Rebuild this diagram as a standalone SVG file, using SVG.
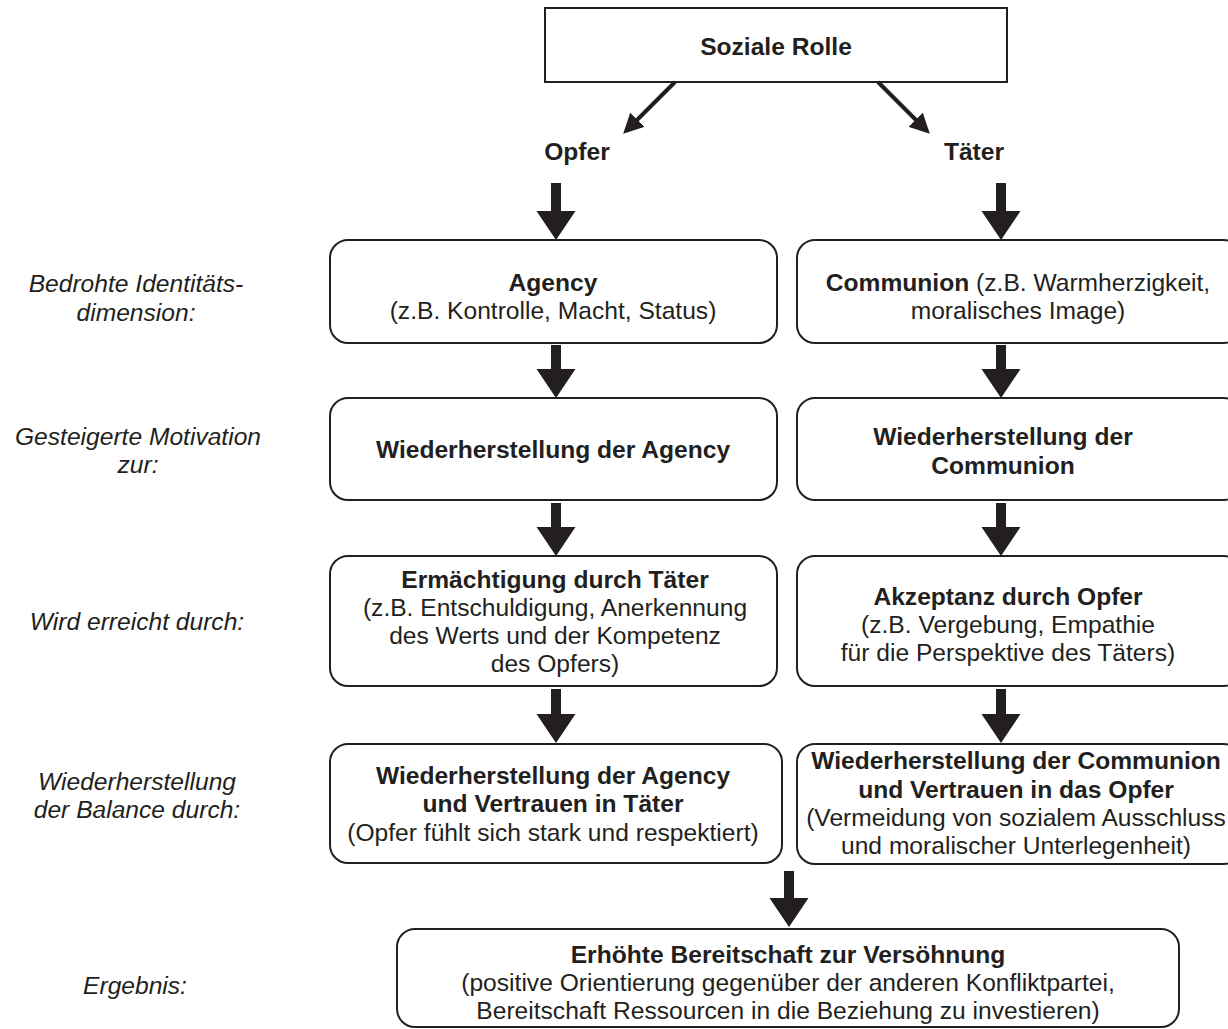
<svg xmlns="http://www.w3.org/2000/svg" width="1228" height="1029" viewBox="0 0 1228 1029">
<defs>
<style>
text{font-family:"Liberation Sans",Arial,sans-serif;fill:#231f20;font-size:24.6px;text-anchor:middle}
.b{font-weight:bold}
.i{font-style:italic}
.box{fill:#fff;stroke:#231f20;stroke-width:2}
.thick{fill:#231f20}
.diag{stroke:#231f20;stroke-width:4;fill:none;marker-end:url(#ah)}
</style>
<marker id="ah" viewBox="0 0 10 10" refX="8" refY="5" markerWidth="5" markerHeight="5" orient="auto" markerUnits="strokeWidth">
<path d="M0,0 L10,5 L0,10 z" fill="#231f20"/>
</marker>
</defs>
<rect width="1228" height="1029" fill="#fff"/>

<g id="labels">
<text class="i" x="136" y="292">Bedrohte Identitäts-</text>
<text class="i" x="136" y="321">dimension:</text>
<text class="i" x="138" y="445">Gesteigerte Motivation</text>
<text class="i" x="138" y="473">zur:</text>
<text class="i" x="137" y="630">Wird erreicht durch:</text>
<text class="i" x="137" y="790">Wiederherstellung</text>
<text class="i" x="137" y="818">der Balance durch:</text>
<text class="i" x="135" y="994">Ergebnis:</text>
</g>

<g id="node-soziale-rolle">
<rect class="box" x="545" y="8" width="462" height="74"/>
<text class="b" x="776" y="55">Soziale Rolle</text>
</g>
<g id="node-opfer"><text class="b" x="577" y="160">Opfer</text></g>
<g id="node-taeter"><text class="b" x="974" y="160">Täter</text></g>

<g id="node-agency">
<rect class="box" x="330" y="240" width="447" height="103" rx="18"/>
<text class="b" x="553" y="291">Agency</text>
<text x="553" y="319">(z.B. Kontrolle, Macht, Status)</text>
</g>
<g id="node-communion">
<rect class="box" x="797" y="240" width="445" height="103" rx="18"/>
<text x="1018" y="291"><tspan class="b">Communion</tspan> (z.B. Warmherzigkeit,</text>
<text x="1018" y="319">moralisches Image)</text>
</g>

<g id="node-wh-agency">
<rect class="box" x="330" y="398" width="447" height="102" rx="18"/>
<text class="b" x="553" y="458">Wiederherstellung der Agency</text>
</g>
<g id="node-wh-communion">
<rect class="box" x="797" y="398" width="445" height="102" rx="18"/>
<text class="b" x="1003" y="445">Wiederherstellung der</text>
<text class="b" x="1003" y="474">Communion</text>
</g>

<g id="node-ermaechtigung">
<rect class="box" x="330" y="556" width="447" height="130" rx="18"/>
<text class="b" x="555" y="588">Ermächtigung durch Täter</text>
<text x="555" y="616">(z.B. Entschuldigung, Anerkennung</text>
<text x="555" y="644">des Werts und der Kompetenz</text>
<text x="555" y="672">des Opfers)</text>
</g>
<g id="node-akzeptanz">
<rect class="box" x="797" y="556" width="445" height="130" rx="18"/>
<text class="b" x="1008" y="605">Akzeptanz durch Opfer</text>
<text x="1008" y="633">(z.B. Vergebung, Empathie</text>
<text x="1008" y="661">für die Perspektive des Täters)</text>
</g>

<g id="node-balance-agency">
<rect class="box" x="330" y="744" width="452" height="119" rx="18"/>
<text class="b" x="553" y="784">Wiederherstellung der Agency</text>
<text class="b" x="553" y="812">und Vertrauen in Täter</text>
<text x="553" y="841">(Opfer fühlt sich stark und respektiert)</text>
</g>
<g id="node-balance-communion">
<rect class="box" x="797" y="744" width="445" height="120" rx="18"/>
<text class="b" x="1016" y="769">Wiederherstellung der Communion</text>
<text class="b" x="1016" y="798">und Vertrauen in das Opfer</text>
<text x="1016" y="826">(Vermeidung von sozialem Ausschluss</text>
<text x="1016" y="854">und moralischer Unterlegenheit)</text>
</g>

<g id="node-ergebnis">
<rect class="box" x="397" y="929" width="782" height="98" rx="18"/>
<text class="b" x="788" y="963">Erhöhte Bereitschaft zur Versöhnung</text>
<text x="788" y="991">(positive Orientierung gegenüber der anderen Konfliktpartei,</text>
<text x="788" y="1019">Bereitschaft Ressourcen in die Beziehung zu investieren)</text>
</g>

<g id="connectors">
<line class="diag" x1="675" y1="82" x2="626" y2="131"/>
<line class="diag" x1="878" y1="82" x2="927" y2="131"/>
<path class="thick" d="M551,183 h10 v28 h14.5 l-19.5,29 l-19.5,-29 h14.5 z"/>
<path class="thick" d="M551,345 h10 v24 h14.5 l-19.5,29 l-19.5,-29 h14.5 z"/>
<path class="thick" d="M551,503 h10 v24 h14.5 l-19.5,29 l-19.5,-29 h14.5 z"/>
<path class="thick" d="M551,689 h10 v25 h14.5 l-19.5,29 l-19.5,-29 h14.5 z"/>
<path class="thick" d="M996,183 h10 v28 h14.5 l-19.5,29 l-19.5,-29 h14.5 z"/>
<path class="thick" d="M996,345 h10 v24 h14.5 l-19.5,29 l-19.5,-29 h14.5 z"/>
<path class="thick" d="M996,503 h10 v24 h14.5 l-19.5,29 l-19.5,-29 h14.5 z"/>
<path class="thick" d="M996,689 h10 v25 h14.5 l-19.5,29 l-19.5,-29 h14.5 z"/>
<path class="thick" d="M784,871 h10 v27 h14.5 l-19.5,29 l-19.5,-29 h14.5 z"/>
</g>
</svg>
